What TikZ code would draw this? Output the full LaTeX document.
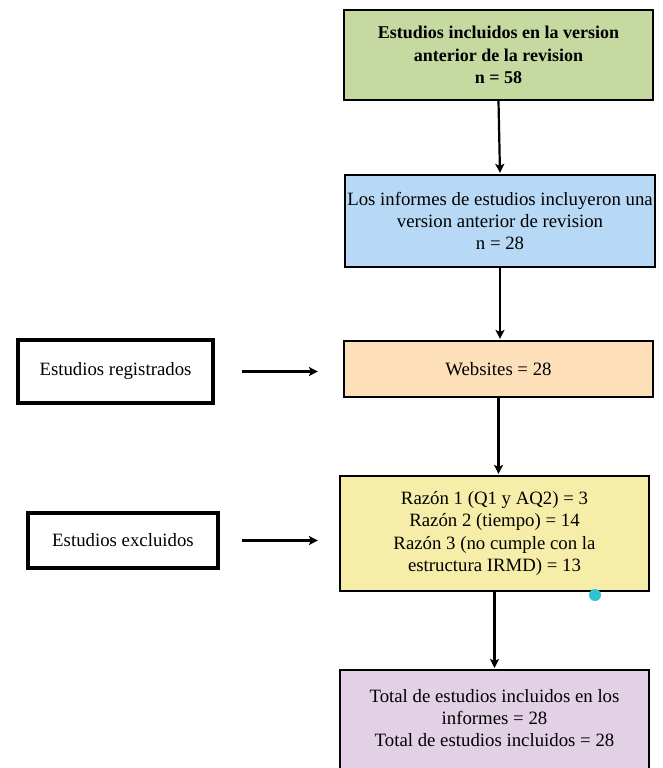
\documentclass[tikz,border=0pt]{standalone}
\usepackage{fontspec}
\setmainfont{Liberation Serif}
\usetikzlibrary{arrows.meta,calc}
\definecolor{cgreen}{HTML}{C5D9A0}
\definecolor{cblue}{HTML}{B8D9F5}
\definecolor{corange}{HTML}{FDDFBA}
\definecolor{cyellow}{HTML}{F6EEA8}
\definecolor{cpurple}{HTML}{E2D1E4}
\definecolor{cdot}{HTML}{2EC4D6}
\tikzset{
  flowbox/.style={draw=black, line width=2.2pt, inner sep=0pt, align=center,
    font=\fontsize{18.8}{22.3}\selectfont},
  sidebox/.style={draw=black, line width=4.5pt, inner sep=0pt, align=center,
    fill=white, font=\fontsize{18.8}{22.3}\selectfont},
  arr/.style={line width=2.2pt, -{Stealth[length=9pt,width=9pt,inset=2pt]}},
  txt/.style={inner sep=0pt, align=center, font=\fontsize{18.8}{22}\selectfont}
}
\begin{document}
\begin{tikzpicture}[x=1pt,y=-1pt]
\useasboundingbox (0,0) rectangle (662,768);
\clip (0,0) rectangle (662,768);
\node[flowbox, fill=cgreen, minimum width=309, minimum height=90,
  font=\fontsize{18}{22.5}\selectfont\bfseries] (b1) at (498.5,55)
  {Estudios incluidos en la version\\ anterior de la revision\\ n = 58};
\node[flowbox, fill=cblue, minimum width=310, minimum height=92] (b2) at (500,221)
  {Los informes de estudios incluyeron una\\ version anterior de revision\\ n = 28};
\node[flowbox, fill=corange, minimum width=309, minimum height=56] (b3) at (498.5,369)
  {Websites = 28};
\node[sidebox, minimum width=195, minimum height=63] (reg) at (115.5,371.5)
  {Estudios registrados};
\node[flowbox, fill=cyellow, minimum width=309, minimum height=115] (b4) at (494.5,533.5)
  {Razón 1 (Q1 y AQ2) = 3\\ Razón 2 (tiempo) = 14\\ Razón 3 (no cumple con la\\ estructura IRMD) = 13};
\node[sidebox, minimum width=190, minimum height=55] (exc) at (123,540.5)
  {Estudios excluidos};
\node[flowbox, fill=cpurple, minimum width=309, minimum height=130, anchor=north] (b5) at (494.5,669) {};
\node[txt] (b5t) at (494.5,718.5)
  {Total de estudios incluidos en los\\ informes = 28\\ Total de estudios incluidos = 28};
\fill[cdot] (595,595) circle (6);
\draw[arr, shorten >=1pt] (b1.south) -- (b2.north);
\draw[arr, shorten >=1pt] (b2.south) -- (b2.south |- b3.north);
\draw[arr, shorten >=1pt] (b3.south) -- (b3.south |- b4.north);
\draw[arr, shorten >=1pt] (b4.south) -- (b5.north);
\draw[arr, shorten <=27pt, shorten >=25pt] (reg.east) -- (reg.east -| b3.west);
\draw[arr, shorten <=22pt, shorten >=21pt] (exc.east) -- (exc.east -| b4.west);
\end{tikzpicture}
\end{document}
